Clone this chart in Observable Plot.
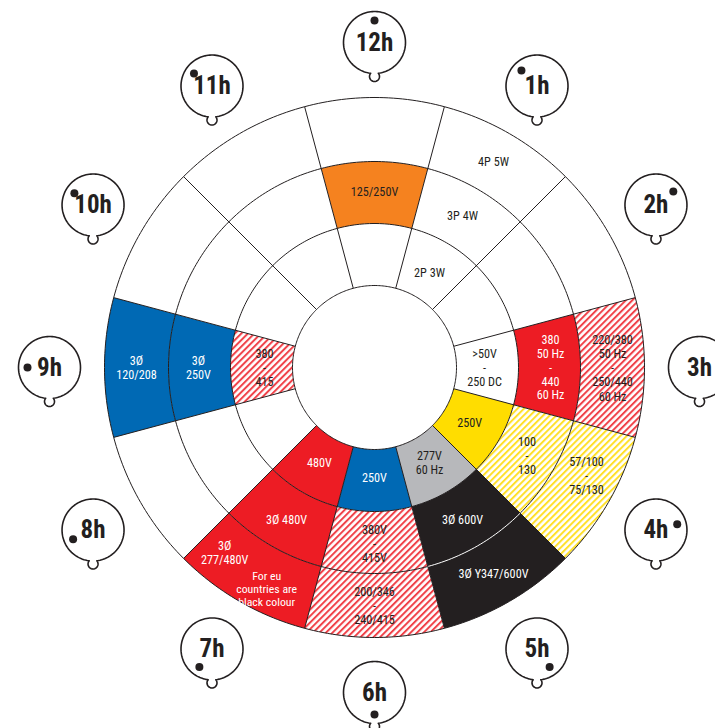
<!DOCTYPE html>
<html><head><meta charset="utf-8">
<script src="https://cdn.jsdelivr.net/npm/d3@7"></script>
<script src="https://cdn.jsdelivr.net/npm/@observablehq/plot@0.6"></script>
<style>body{margin:0;background:#fff}</style>
</head><body><div id="chart"></div>
<script>
// ---- data ----
const hours = [12, 1, 2, 3, 4, 5, 6, 7, 8, 9, 10, 11];
const hourLabels = ["12h", "1h", "2h", "3h", "4h", "5h", "6h", "7h", "8h", "9h", "10h", "11h"];
const ringRadii = [82, 144, 206, 270];
const ring1Fill = ["white", "white", "white", "white", "yellow", "grey", "blue", "red", "white", "redHatch", "white", "white"];
const ring2Fill = ["orange", "white", "white", "red", "yellowHatch", "black", "redHatch", "red", "white", "blue", "white", "white"];
const ring3Fill = ["white", "white", "white", "redHatch", "yellowHatch", "black", "redHatch", "red", "white", "blue", "white", "white"];
const ring1Label = ["", "2P 3W", "", ">50V\n-\n250 DC", "250V", "277V\n60 Hz", "250V", "480V", "", "380\n-\n415", "", ""];
const ring2Label = ["125/250V", "3P 4W", "", "380\n50 Hz\n-\n440\n60 Hz", "100\n-\n130", "3Ø 600V", "380V\n-\n415V", "3Ø 480V", "", "3Ø\n250V", "", ""];
const ring3Label = ["", "4P 5W", "", "220/380\n50 Hz\n-\n250/440\n60 Hz", "57/100\n-\n75/130", "3Ø Y347/600V", "200/346\n-\n240/415", "3Ø\n277/480V", "", "3Ø\n120/208", "", ""];
const ring3LabelShift = [0, 0, 0, 0, -3, 0, 0, 9, 0, 0, 0, 0];
const noteHour = [7];
const noteText = ["For eu\ncountries are\nblack colour"];
const noteShift = [-4];
const dotAngles = [0, 315, 52, 90, 75, 145, 180, 215, 245, 270, 302, 305];

const palette = {
  white: "#ffffff", yellow: "#ffdd00", grey: "#b7b8bb", blue: "#0069b4",
  red: "#ed1c24", orange: "#f5821f", black: "#231f20",
  redHatch: "url(#hatch-red)", yellowHatch: "url(#hatch-yellow)"
};
const lightText = new Set(["blue", "red", "black"]);
const ink = "#231f20";

// ---- geometry helpers ----
const rad = Math.PI / 180;
const polar = (r, a) => ({x: r * Math.sin(a * rad), y: r * Math.cos(a * rad)});
const hourAngle = h => (h % 12) * 30;
const fills = [ring1Fill, ring2Fill, ring3Fill];
const labels = [ring1Label, ring2Label, ring3Label];
const labelRadii = [110, 176, 238];

const segments = [];
fills.forEach((ring, ri) => ring.forEach((f, hi) => {
  const a = hourAngle(hours[hi]);
  const pts = [];
  for (let t = a - 15; t <= a + 15 + 1e-9; t += 1) pts.push(polar(ringRadii[ri + 1], t));
  for (let t = a + 15; t >= a - 15 - 1e-9; t -= 1) pts.push(polar(ringRadii[ri], t));
  segments.push({fill: palette[f], pts});
}));

const circles = ringRadii.map(r => d3.range(0, 361, 1).map(t => ({...polar(r, t), r})));
const whiteArcs = [];
hours.forEach((h, hi) => {
  if (ring2Fill[hi] === "black" && ring3Fill[hi] === "black") {
    const a = hourAngle(h);
    whiteArcs.push(d3.range(a - 15, a + 15.01, 1).map(t => polar(ringRadii[2], t)));
  }
});

const spokes = hours.map(h => {
  const a = hourAngle(h) + 15;
  const p1 = polar(ringRadii[0], a), p2 = polar(ringRadii[3], a);
  return {x1: p1.x, y1: p1.y, x2: p2.x, y2: p2.y};
});

const labelData = [];
labels.forEach((ring, ri) => ring.forEach((txt, hi) => {
  if (!txt) return;
  const shift = ri === 2 ? ring3LabelShift[hi] : 0;
  const p = polar(labelRadii[ri], hourAngle(hours[hi]) + shift);
  labelData.push({...p, text: txt, light: lightText.has(fills[ri][hi]), size: 12.2});
}));
noteHour.forEach((h, i) => {
  const p = polar(labelRadii[2] + 8, hourAngle(h) + noteShift[i]);
  labelData.push({...p, text: noteText[i], light: true, size: 11.8});
});

// badges
const badgeDist = 325, badgeR = 31, bumpR = 5, bumpD = 34;
const badgeCenters = hours.map((h, i) => ({...polar(badgeDist, hourAngle(h)), label: hourLabels[i], dot: dotAngles[i]}));
function badgeOutline(c) {
  const phi = Math.acos((badgeR ** 2 + bumpD ** 2 - bumpR ** 2) / (2 * badgeR * bumpD)) / rad;
  const ix = badgeR * Math.sin(phi * rad), iy = bumpD - badgeR * Math.cos(phi * rad);
  const psi = Math.atan2(iy, ix) / rad;
  const pts = [];
  for (let t = -90 + phi; t <= 270 - phi + 1e-9; t += 3) pts.push({x: c.x + badgeR * Math.cos(t * rad), y: c.y + badgeR * Math.sin(t * rad)});
  pts.push({x: c.x + badgeR * Math.cos((270 - phi) * rad), y: c.y + badgeR * Math.sin((270 - phi) * rad)});
  for (let t = 180 - psi; t <= 360 + psi + 1e-9; t += 10) pts.push({x: c.x + bumpR * Math.cos(t * rad), y: c.y - bumpD + bumpR * Math.sin(t * rad)});
  pts.push({x: c.x + bumpR * Math.cos((360 + psi) * rad), y: c.y - bumpD + bumpR * Math.sin((360 + psi) * rad)});
  pts.push(pts[0]);
  return pts;
}
const badgeDots = badgeCenters.map(c => ({x: c.x + 22 * Math.sin(c.dot * rad), y: c.y + 22 * Math.cos(c.dot * rad)}));

const W = 715, H = 728, CX = 374, CY = 367;
const font = "'Liberation Sans Narrow','Roboto Condensed','DejaVu Sans Condensed',Roboto,sans-serif";

const svg = Plot.plot({
  width: W, height: H,
  margin: 0,
  x: {domain: [-CX, W - CX], range: [0, W], axis: null},
  y: {domain: [-(H - CY), CY], range: [H, 0], axis: null},
  style: {background: "white"},
  marks: [
    ...segments.map(s => Plot.line(s.pts, {x: "x", y: "y", fill: s.fill, stroke: "none"})),
    ...circles.map(c => Plot.line(c, {x: "x", y: "y", stroke: ink, strokeWidth: 1})),
    ...whiteArcs.map(c => Plot.line(c, {x: "x", y: "y", stroke: "white", strokeWidth: 1})),
    Plot.link(spokes, {x1: "x1", y1: "y1", x2: "x2", y2: "y2", stroke: ink, strokeWidth: 1}),
    Plot.text(labelData.filter(d => !d.light), {x: "x", y: "y", text: "text", fill: ink, fontSize: d => d.size, lineHeight: 1.17, fontFamily: font}),
    Plot.text(labelData.filter(d => d.light), {x: "x", y: "y", text: "text", fill: "white", fontSize: d => d.size, lineHeight: 1.13, fontFamily: font}),
    ...badgeCenters.map(c => Plot.line(badgeOutline(c), {x: "x", y: "y", fill: "white", stroke: ink, strokeWidth: 1.6})),
    Plot.dot(badgeDots, {x: "x", y: "y", r: 4, fill: ink}),
    Plot.text(badgeCenters, {x: "x", y: "y", text: "label", fontSize: 25, fontWeight: "bold", fill: ink, fontFamily: font})
  ]
});

const defs = d3.select(svg).insert("defs", ":first-child");
function hatch(id, color) {
  const p = defs.append("pattern").attr("id", id).attr("patternUnits", "userSpaceOnUse")
    .attr("width", 4.6).attr("height", 4.6).attr("patternTransform", "rotate(45)");
  p.append("rect").attr("width", 4.6).attr("height", 4.6).attr("fill", "white");
  p.append("rect").attr("width", 2).attr("height", 4.6).attr("fill", color);
}
hatch("hatch-red", "#f04249");
hatch("hatch-yellow", "#ffe02a");
document.getElementById("chart").appendChild(svg);
</script>
</body></html>
